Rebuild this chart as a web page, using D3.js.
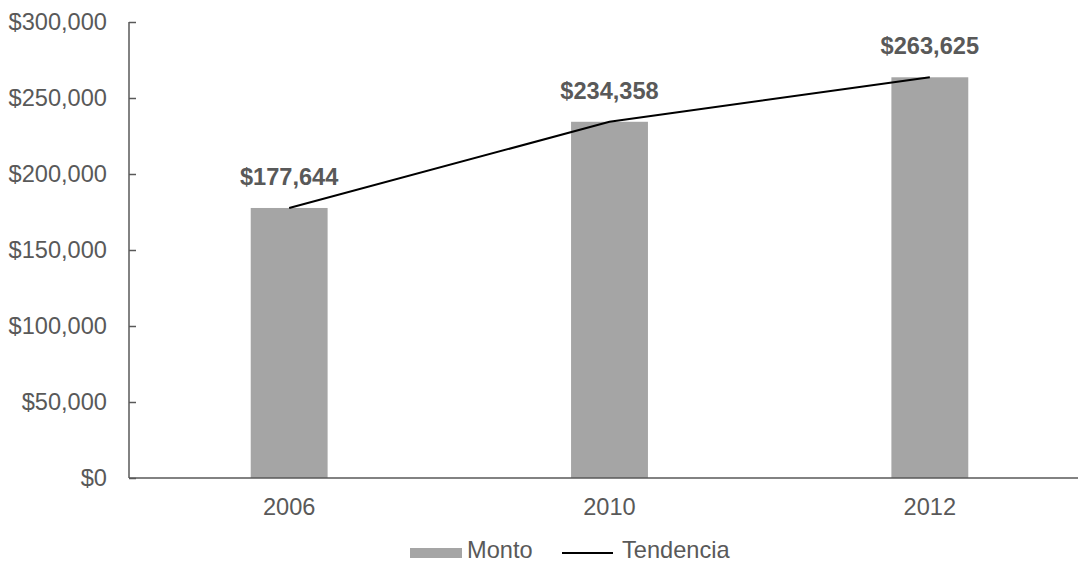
<!DOCTYPE html>
<html>
<head>
<meta charset="utf-8">
<script src="https://cdn.jsdelivr.net/npm/d3@7"></script>
<style>
  html, body { margin: 0; padding: 0; background: #fff; }
  svg { display: block; font-family: Arial, "Liberation Sans", sans-serif; }
</style>
</head>
<body>
<svg id="chart" width="1078" height="563"></svg>
<script>
// Monto por año y su línea de tendencia
const years = ["2006", "2010", "2012"];
const monto = [177644, 234358, 263625];
const yTicks = [0, 50000, 100000, 150000, 200000, 250000, 300000];
const legendLabels = ["Monto", "Tendencia"];

const svg = d3.select("#chart");
const textColor = "#595959";
const barColor = "#a5a5a5";
const fontSize = 23.6;
const fontFamily = "Arial, 'Liberation Sans', sans-serif";

const x = d3.scaleBand()
  .domain(years)
  .range([129, 1090])
  .paddingInner(0.76)
  .paddingOuter(0.38);

const y = d3.scaleLinear()
  .domain([0, 300000])
  .range([478, 22]);

const money = d3.format("$,");

// Eje Y
const yAxis = svg.append("g")
  .attr("transform", `translate(${x.range()[0]},0)`)
  .call(d3.axisLeft(y).tickValues(yTicks).tickFormat(money).tickSize(-7).tickPadding(22));
yAxis.select(".domain").attr("stroke", textColor).attr("stroke-width", 1.5)
  .attr("d", `M0,${y(300000)}V${y(0)}`);
yAxis.selectAll(".tick line").attr("stroke", textColor).attr("stroke-width", 1.5);
yAxis.selectAll(".tick text").attr("fill", textColor).attr("font-size", fontSize)
  .attr("font-family", fontFamily);

// Barras
svg.append("g").selectAll("rect")
  .data(years)
  .join("rect")
  .attr("x", d => x(d))
  .attr("width", x.bandwidth())
  .attr("y", (d, i) => y(monto[i]))
  .attr("height", (d, i) => y(0) - y(monto[i]))
  .attr("fill", barColor);

// Eje X
const xAxis = svg.append("g")
  .attr("transform", `translate(0,${y(0)})`)
  .call(d3.axisBottom(x).tickSize(0).tickPadding(20));
xAxis.select(".domain").attr("stroke", textColor).attr("stroke-width", 1.5)
  .attr("d", `M${x.range()[0]},0H1078`);
xAxis.selectAll(".tick text").attr("fill", textColor).attr("font-size", fontSize)
  .attr("font-family", fontFamily);

// Línea de tendencia
const line = d3.line()
  .x((d, i) => x(years[i]) + x.bandwidth() / 2)
  .y(d => y(d));
svg.append("path")
  .datum(monto)
  .attr("d", line)
  .attr("fill", "none")
  .attr("stroke", "#000")
  .attr("stroke-width", 2);

// Etiquetas de valor
svg.append("g").selectAll("text")
  .data(monto)
  .join("text")
  .attr("x", (d, i) => x(years[i]) + x.bandwidth() / 2)
  .attr("y", d => y(d) - 23)
  .attr("text-anchor", "middle")
  .attr("fill", textColor)
  .attr("font-size", fontSize)
  .attr("font-weight", "bold")
  .text(d => money(d));

// Leyenda
const legend = svg.append("g");
legend.append("rect")
  .attr("x", 410).attr("y", 548).attr("width", 52).attr("height", 10)
  .attr("fill", barColor);
legend.append("text")
  .attr("x", 467).attr("y", 557.5)
  .attr("fill", textColor).attr("font-size", fontSize)
  .text(legendLabels[0]);
legend.append("line")
  .attr("x1", 562).attr("x2", 613).attr("y1", 553).attr("y2", 553)
  .attr("stroke", "#000").attr("stroke-width", 2);
legend.append("text")
  .attr("x", 622).attr("y", 557.5)
  .attr("fill", textColor).attr("font-size", fontSize)
  .text(legendLabels[1]);
</script>
</body>
</html>
